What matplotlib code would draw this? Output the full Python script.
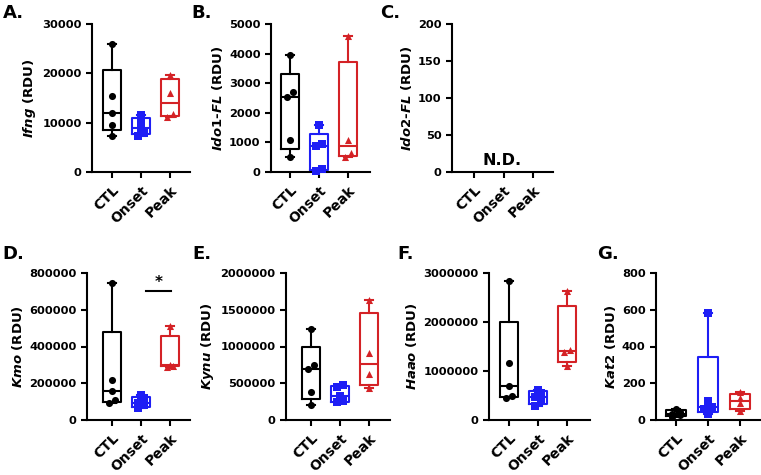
import numpy as np
import matplotlib
matplotlib.use('Agg')
import matplotlib.pyplot as plt

plt.rcParams['font.family'] = 'DejaVu Sans'
plt.rcParams['font.weight'] = 'bold'
plt.rcParams['mathtext.fontset'] = 'custom'
plt.rcParams['mathtext.it'] = 'DejaVu Sans:italic:bold'
plt.rcParams['mathtext.rm'] = 'DejaVu Sans:bold'

# ---------------- data ----------------
groups = ['CTL', 'Onset', 'Peak']

ifng_ctl = [7300, 9600, 12000, 15400, 26000]
ifng_onset = [7300, 8000, 9000, 10200, 11500]
ifng_peak = [11200, 11700, 16100, 19700]

ido1_ctl = [510, 1075, 2545, 2690, 3960]
ido1_onset = [50, 100, 880, 950, 1600]
ido1_peak = [500, 650, 1075, 4580]

kmo_ctl = [90000, 110000, 158000, 215000, 745000]
kmo_onset = [65000, 80000, 95000, 120000, 135000]
kmo_peak = [290000, 295000, 300000, 513000]

kynu_ctl = [205000, 377000, 695000, 750000, 1236000]
kynu_onset = [240000, 260000, 330000, 455000, 480000]
kynu_peak = [432000, 627000, 909000, 1636000]

haao_ctl = [440000, 500000, 700000, 1173000, 2830000]
haao_onset = [280000, 380000, 470000, 560000, 620000]
haao_peak = [1105000, 1380000, 1430000, 2625000]

kat2_ctl = [15, 25, 35, 45, 60]
kat2_onset = [30, 60, 73, 105, 582]
kat2_peak = [48, 90, 120, 150]

ifng_ticks = [0, 10000, 20000, 30000]
ido1_ticks = [0, 1000, 2000, 3000, 4000, 5000]
ido2_ticks = [0, 50, 100, 150, 200]
kmo_ticks = [0, 200000, 400000, 600000, 800000]
kynu_ticks = [0, 500000, 1000000, 1500000, 2000000]
haao_ticks = [0, 1000000, 2000000, 3000000]
kat2_ticks = [0, 200, 400, 600, 800]

# ---------------- style ----------------
colors = ['#000000', '#1e1ef5', '#d42226']
markers = ['o', 's', '^']
W, H = 761, 475
fig = plt.figure(figsize=(W / 100, H / 100), dpi=100)


def style_xticks(ax):
    ax.set_xticks(range(3))
    ax.set_xticklabels(groups, rotation=45, ha='right', rotation_mode='anchor',
                       fontsize=10, fontweight='bold')
    ax.tick_params(axis='x', pad=4)


def make_ax(left, right, top, bottom, tick0_px, step_px):
    ax = fig.add_axes([left / W, 1 - bottom / H, (right - left) / W, (bottom - top) / H])
    x0 = -(tick0_px - left) / step_px
    x1 = 2 + (right - (tick0_px + 2 * step_px)) / step_px
    ax.set_xlim(x0, x1)
    for s in ['top', 'right']:
        ax.spines[s].set_visible(False)
    for s in ['left', 'bottom']:
        ax.spines[s].set_linewidth(1.5)
    ax.tick_params(width=1.5, length=4, labelsize=8.2)
    style_xticks(ax)
    return ax


def spread(vals, span):
    vals = np.asarray(vals, float)
    offs = np.zeros(len(vals))
    order = np.argsort(vals)
    prev = None
    for i in order:
        if prev is not None and abs(vals[i] - vals[prev]) < 0.035 * span and offs[prev] == 0:
            offs[prev] = -0.12
            offs[i] = 0.12
        prev = i
    return offs


def panel(ax, data, ticks, ylabel):
    ymax = ticks[-1]
    ax.set_ylim(0, ymax)
    ax.set_yticks(ticks)
    ax.set_yticklabels([str(t) for t in ticks])
    ax.set_ylabel(ylabel, fontsize=9.5, fontweight='bold', labelpad=3)
    for i, vals in enumerate(data):
        v = np.asarray(vals, float)
        q1, med, q3 = np.percentile(v, [25, 50, 75], method='weibull')
        st = [dict(med=med, q1=q1, q3=q3, whislo=v.min(), whishi=v.max(), fliers=[])]
        c = colors[i]
        lp = dict(color=c, linewidth=1.5)
        ax.bxp(st, positions=[i], widths=0.6, showfliers=False, patch_artist=False,
               boxprops=lp, medianprops=lp, whiskerprops=lp, capprops=lp,
               capwidths=0.25, manage_ticks=False)
        offs = spread(v, ymax)
        ax.scatter(i + offs, v, marker=markers[i], s=26, color=c, zorder=5,
                   linewidths=0, clip_on=False)
    style_xticks(ax)


# Panel A
axA = make_ax(92, 190, 24, 172, 112, 29)
panel(axA, [ifng_ctl, ifng_onset, ifng_peak], ifng_ticks, r'$\mathit{Ifng}$ (RDU)')
# Panel B
axB = make_ax(271, 370, 24, 172, 290, 29)
panel(axB, [ido1_ctl, ido1_onset, ido1_peak], ido1_ticks, r'$\mathit{Ido1}$-$\mathit{FL}$ (RDU)')
# Panel C
axC = make_ax(452, 553, 24, 172, 474, 29.5)
axC.set_ylim(0, ido2_ticks[-1])
axC.set_yticks(ido2_ticks)
axC.set_yticklabels([str(t) for t in ido2_ticks])
axC.set_ylabel(r'$\mathit{Ido2}$-$\mathit{FL}$ (RDU)', fontsize=9.5, fontweight='bold', labelpad=3)
axC.text(0.95, 6, 'N.D.', ha='center', va='bottom', fontsize=11.5, fontweight='bold')
# Panel D
axD = make_ax(87, 190, 273, 420, 112, 29)
panel(axD, [kmo_ctl, kmo_onset, kmo_peak], kmo_ticks, r'$\mathit{Kmo}$ (RDU)')
axD.plot([1.17, 2.03], [704000, 704000], color='black', linewidth=1.5, clip_on=False)
axD.text(1.6, 705000, '*', ha='center', va='bottom', fontsize=11, fontweight='bold')
# Panel E
axE = make_ax(286, 390, 273, 420, 311, 29)
panel(axE, [kynu_ctl, kynu_onset, kynu_peak], kynu_ticks, r'$\mathit{Kynu}$ (RDU)')
# Panel F
axF = make_ax(489, 590, 273, 420, 509, 29)
panel(axF, [haao_ctl, haao_onset, haao_peak], haao_ticks, r'$\mathit{Haao}$ (RDU)')
# Panel G
axG = make_ax(656, 760, 273, 420, 676, 32)
panel(axG, [kat2_ctl, kat2_onset, kat2_peak], kat2_ticks, r'$\mathit{Kat2}$ (RDU)')

# panel letters
for lab, x, y in [('A.', 3, 13), ('B.', 191, 13), ('C.', 380, 13), ('D.', 2, 254),
                  ('E.', 192, 254), ('F.', 397, 254), ('G.', 597, 254)]:
    fig.text(x / W, 1 - y / H, lab, fontsize=13, fontweight='bold', ha='left', va='center')

fig.savefig('out.png', dpi=100)
